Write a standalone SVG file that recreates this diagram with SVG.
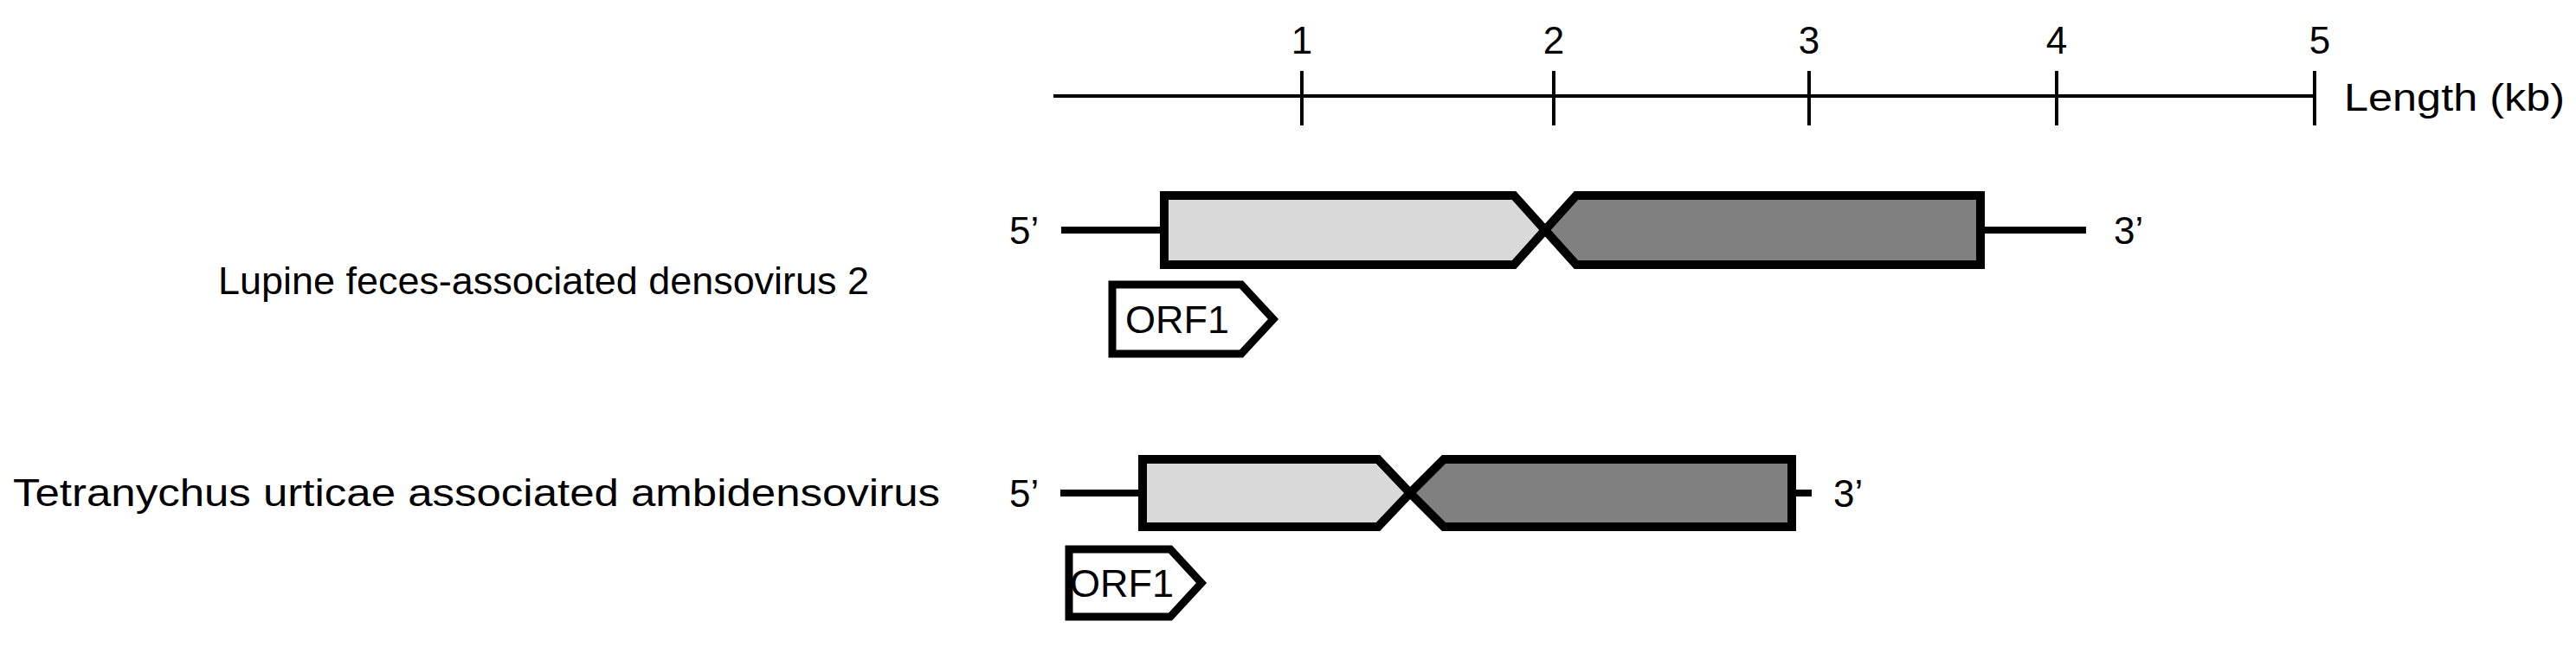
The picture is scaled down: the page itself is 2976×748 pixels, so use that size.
<svg xmlns="http://www.w3.org/2000/svg" width="2976" height="748" viewBox="0 0 2976 748">
<style>
text{font-family:"Liberation Sans",Arial,sans-serif;fill:#000}
.t{font-size:44px}
.ax{stroke:#000;stroke-width:4;fill:none}
.ln{stroke:#000;stroke-width:8;fill:none}
.light{fill:#d9d9d9;stroke:#000;stroke-width:10;stroke-linejoin:miter}
.dark{fill:#808080;stroke:#000;stroke-width:10}
.orf{fill:#fff;stroke:#000;stroke-width:9}
</style>
<rect width="2976" height="748" fill="#fff"/>
<g id="axis">
<line class="ax" x1="1217" y1="111" x2="2674" y2="111"/>
<line class="ax" x1="1504" y1="82" x2="1504" y2="145"/>
<line class="ax" x1="1795" y1="82" x2="1795" y2="145"/>
<line class="ax" x1="2090" y1="82" x2="2090" y2="145"/>
<line class="ax" x1="2376" y1="82" x2="2376" y2="145"/>
<line class="ax" x1="2674" y1="82" x2="2674" y2="145"/>
<text class="t" x="1504" y="62" text-anchor="middle">1</text>
<text class="t" x="1795" y="62" text-anchor="middle">2</text>
<text class="t" x="2090" y="62" text-anchor="middle">3</text>
<text class="t" x="2376" y="62" text-anchor="middle">4</text>
<text class="t" x="2680" y="62" text-anchor="middle">5</text>
<text class="t" x="2708" y="128" textLength="255" lengthAdjust="spacingAndGlyphs">Length (kb)</text>
</g>
<g id="genome1">
<text class="t" x="252" y="340" textLength="752" lengthAdjust="spacingAndGlyphs">Lupine feces-associated densovirus 2</text>
<line class="ln" x1="1226" y1="266" x2="1340" y2="266"/>
<line class="ln" x1="2293" y1="266" x2="2410" y2="266"/>
<polygon class="light" points="1345,226 1749,226 1785,266 1749,306 1345,306"/>
<polygon class="dark" points="1821,226 2288,226 2288,306 1821,306 1785,266"/>
<text class="t" x="1166" y="282">5’</text>
<text class="t" x="2442" y="282">3’</text>
</g>
<g id="orf1a">
<polygon class="orf" points="1285,329 1434,329 1471,369 1434,409 1285,409"/>
<text class="t" x="1300" y="385" textLength="120" lengthAdjust="spacingAndGlyphs">ORF1</text>
</g>
<g id="genome2">
<text class="t" x="15" y="585" textLength="1071" lengthAdjust="spacingAndGlyphs">Tetranychus urticae associated ambidensovirus</text>
<line class="ln" x1="1225" y1="570" x2="1315" y2="570"/>
<line class="ln" x1="2075" y1="570" x2="2093" y2="570"/>
<polygon class="light" points="1320,531 1592,531 1629,570 1592,609 1320,609"/>
<polygon class="dark" points="1668,531 2070,531 2070,609 1668,609 1629,570"/>
<text class="t" x="1166" y="586">5’</text>
<text class="t" x="2118" y="586">3’</text>
</g>
<g id="orf1b">
<polygon class="orf" points="1235,635 1352,635 1388,674 1352,713 1235,713"/>
<text class="t" x="1236" y="690" textLength="120" lengthAdjust="spacingAndGlyphs">ORF1</text>
</g>
<g id="connectors"></g>
</svg>
